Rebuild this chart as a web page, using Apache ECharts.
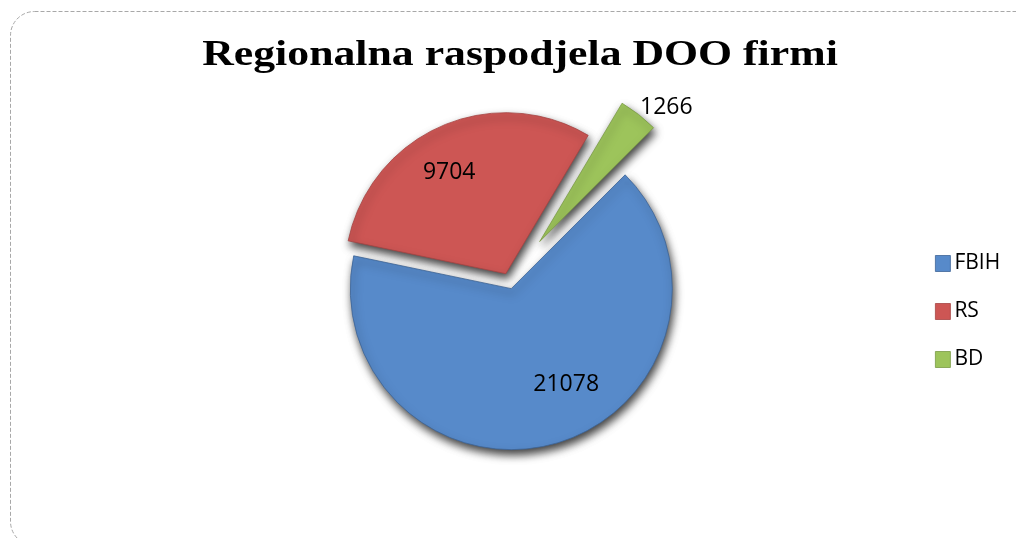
<!DOCTYPE html>
<html>
<head>
<meta charset="utf-8">
<script src="https://cdn.jsdelivr.net/npm/echarts@6/dist/echarts.min.js"></script>
<style>
  html, body { margin:0; padding:0; background:#fff; }
  #chart { width:1016px; height:538px; }
</style>
</head>
<body>
<div id="chart"></div>
<script>
var regions = ['FBIH', 'RS', 'BD'];
var firms = [21078, 9704, 1266];
var colors = ['#578ACA', '#CD5654', '#9DC45B'];
var edges = ['#3E6597', '#A64442', '#7A9A45'];

var myChart = echarts.init(document.getElementById('chart'));

// slice that is pulled far out (BD) goes in its own series
function buildData(farOut) {
    var data = [];
    for (var i = 0; i < regions.length; i++) {
        var show = farOut ? i === 2 : i !== 2;
        data.push({
            name: regions[i],
            value: firms[i],
            selected: show,
            itemStyle: show ? {
                color: colors[i],
                borderColor: edges[i],
                borderWidth: 0.8,
                shadowColor: 'rgba(0,0,0,0.75)',
                shadowBlur: 9,
                shadowOffsetX: 2,
                shadowOffsetY: 5
            } : { color: 'rgba(0,0,0,0)', borderWidth: 0, shadowBlur: 0 },
            label: { show: show }
        });
    }
    return data;
}

// label nudges (px) from the default spot
var nudge = { FBIH: [31, 16], RS: [-23, -25], BD: [-6, -4] };

var pieBase = {
    type: 'pie',
    center: [509, 281],
    radius: 161,
    startAngle: 45,
    clockwise: true,
    selectedMode: 'multiple',
    emphasis: { disabled: true },
    silent: true,
    labelLayout: function (p) {
        var n = nudge[regions[p.dataIndex]];
        return { dx: n[0], dy: n[1] };
    }
};

var labelFont = { fontFamily: 'Open Sans', fontSize: 23, color: '#000', formatter: '{c}' };

var option = {
    animation: false,
    backgroundColor: '#fff',
    legend: {
        orient: 'vertical',
        left: 930,
        top: 248,
        itemWidth: 15,
        itemHeight: 16,
        itemGap: 27,
        icon: 'rect',
        selectedMode: false,
        textStyle: { fontFamily: 'Open Sans', fontSize: 21, color: '#000', padding: [0, 0, 0, -1] },
        data: regions.map(function (r, i) {
            return { name: r, itemStyle: { color: colors[i], borderColor: edges[i], borderWidth: 0.8 } };
        })
    },
    graphic: [{
        type: 'rect',
        silent: true,
        shape: { x: 10.5, y: 11.5, width: 1030, height: 534, r: 24 },
        style: { fill: 'none', stroke: '#a8a8a8', lineWidth: 1, lineDash: [4, 2] }
    }, {
        // title, stretched wide like the original picture
        type: 'text',
        silent: true,
        x: 520,
        y: 56,
        scaleX: 1.25,
        style: {
            text: 'Regionalna raspodjela DOO firmi',
            font: 'bold 35px "Liberation Serif"',
            fill: '#000',
            align: 'center',
            verticalAlign: 'middle'
        }
    }],
    series: [
        Object.assign({}, pieBase, {
            selectedOffset: 8,
            label: Object.assign({ position: 'inside' }, labelFont),
            data: buildData(false)
        }),
        Object.assign({}, pieBase, {
            selectedOffset: 50,
            label: Object.assign({ position: 'outside' }, labelFont),
            labelLine: { show: false, length: 4, length2: 0 },
            data: buildData(true)
        })
    ]
};

myChart.setOption(option);
</script>
</body>
</html>
